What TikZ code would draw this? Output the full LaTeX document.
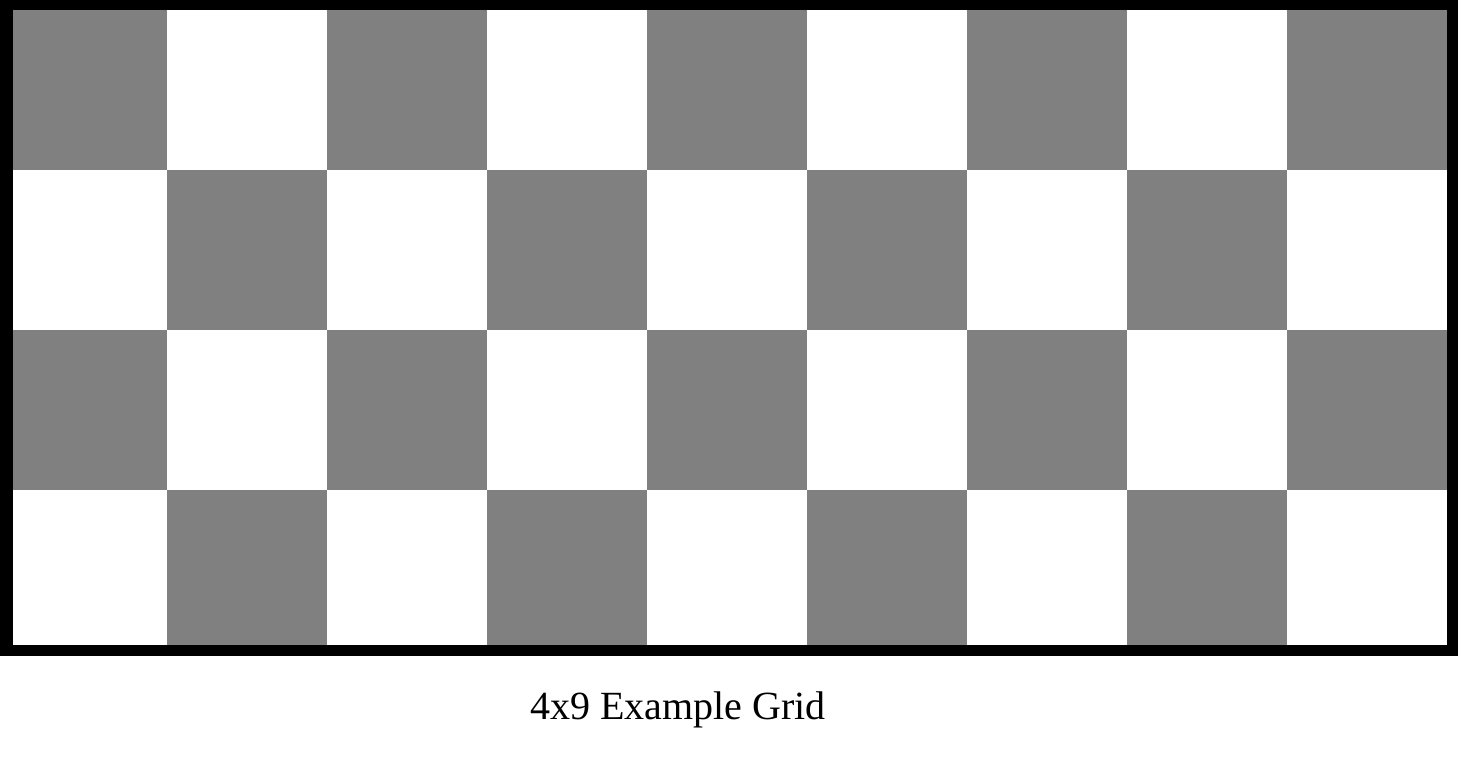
\documentclass[tikz,border=0pt]{standalone}
\usepackage{fontspec}
\setmainfont{Liberation Serif}
\begin{document}
\begin{tikzpicture}[x=1pt,y=-1pt,
  dark/.style={fill={rgb,255:red,128;green,128;blue,128}},
  light/.style={fill=white},
  caption/.style={font=\fontsize{40}{45}\selectfont, inner sep=0pt, anchor=base}]
\useasboundingbox (0,0) rectangle (1458,758);
\fill[white] (0,0) rectangle (1458,758);
% frame
\fill[black] (0,0) rectangle (1458,656);
% cells
\foreach \r in {0,...,3}{
  \foreach \c in {0,...,8}{
    \pgfmathtruncatemacro{\myparity}{mod(\r+\c,2)}
    \ifnum\myparity=0
      \fill[dark] ({7+160*\c},{10+160*\r}) rectangle ({7+160*(\c+1)},{10+160*(\r+1)});
    \else
      \fill[light] ({7+160*\c},{10+160*\r}) rectangle ({7+160*(\c+1)},{10+160*(\r+1)});
    \fi
  }
}
% re-cover frame edges
\fill[black] (0,0) rectangle (13,656);
\fill[black] (1447,0) rectangle (1458,656);
\fill[black] (0,645) rectangle (1458,656);
\fill[black] (0,0) rectangle (1458,10);
\node[caption] (cap) at (678,719) {4x9 Example Grid};
\end{tikzpicture}
\end{document}
